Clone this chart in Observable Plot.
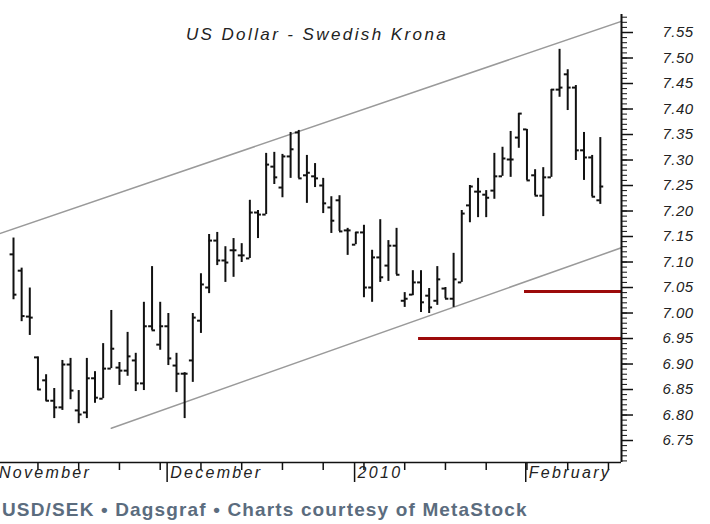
<!DOCTYPE html>
<html><head><meta charset="utf-8">
<script src="https://cdn.jsdelivr.net/npm/d3@7"></script>
<script src="https://cdn.jsdelivr.net/npm/@observablehq/plot@0.6"></script>
<style>
body{margin:0;background:#fff;}
#chart{width:710px;height:524px;position:relative;overflow:hidden;background:#fff;}
#footer{position:absolute;left:2px;top:499px;font:bold 19px "Liberation Sans",Arial,sans-serif;letter-spacing:1.15px;color:#5b6c7e;white-space:nowrap;}
</style></head><body><div id="chart"></div>
<script>
// ---- data ----
const title = "US Dollar - Swedish Krona";
const footer = "USD/SEK \u2022 Dagsgraf \u2022 Charts courtesy of MetaStock";
const dates = [
 "2009-11-04","2009-11-05","2009-11-06","2009-11-09","2009-11-10","2009-11-11","2009-11-12","2009-11-13",
 "2009-11-16","2009-11-17","2009-11-18","2009-11-19","2009-11-20","2009-11-23","2009-11-24","2009-11-25",
 "2009-11-26","2009-11-27","2009-11-30","2009-12-01","2009-12-02","2009-12-03","2009-12-04","2009-12-07",
 "2009-12-08","2009-12-09","2009-12-10","2009-12-11","2009-12-14","2009-12-15","2009-12-16","2009-12-17",
 "2009-12-18","2009-12-21","2009-12-22","2009-12-23","2009-12-24","2009-12-25","2009-12-28","2009-12-29",
 "2009-12-30","2009-12-31","2010-01-01","2010-01-04","2010-01-05","2010-01-06","2010-01-07","2010-01-08",
 "2010-01-11","2010-01-12","2010-01-13","2010-01-14","2010-01-15","2010-01-18","2010-01-19","2010-01-20",
 "2010-01-21","2010-01-22","2010-01-25","2010-01-26","2010-01-27","2010-01-28","2010-01-29","2010-02-01",
 "2010-02-02","2010-02-03","2010-02-04","2010-02-05","2010-02-08","2010-02-09","2010-02-10","2010-02-11",
 "2010-02-12"];
const open = [7.115,7.083,6.993,6.913,6.868,6.828,6.815,6.899,6.809,6.805,6.872,6.832,6.891,6.893,6.887,6.907,
 6.862,6.974,6.938,6.974,6.897,6.881,6.907,6.985,7.050,7.142,7.103,7.123,7.113,7.107,7.197,7.193,
 7.287,7.246,7.307,7.354,7.270,7.268,7.250,7.207,7.221,7.162,7.134,7.158,7.050,7.109,7.093,7.132,
 7.024,7.036,7.060,7.034,7.024,7.048,7.028,7.060,7.211,7.238,7.232,7.240,7.268,7.301,7.344,7.360,
 7.270,7.230,7.266,7.438,7.468,7.442,7.319,7.305,7.221];
const high = [7.147,7.088,7.049,6.914,6.879,6.852,6.907,6.911,6.848,6.911,6.885,6.940,7.005,6.903,6.962,6.921,
 7.021,7.091,7.021,6.999,6.921,6.883,6.999,7.077,7.154,7.158,7.130,7.146,7.136,7.221,7.201,7.313,
 7.315,7.311,7.354,7.358,7.309,7.293,7.264,7.228,7.230,7.166,7.158,7.172,7.123,7.183,7.142,7.166,
 7.040,7.083,7.083,7.048,7.091,7.050,7.117,7.201,7.250,7.264,7.240,7.313,7.325,7.356,7.391,7.360,
 7.281,7.285,7.438,7.517,7.477,7.446,7.354,7.309,7.344];
const low = [7.026,6.983,6.956,6.848,6.827,6.793,6.809,6.830,6.783,6.793,6.823,6.832,6.891,6.858,6.876,6.846,
 6.848,6.966,6.927,6.897,6.844,6.793,6.864,6.960,7.038,7.093,7.060,7.070,7.099,7.107,7.146,7.193,
 7.252,7.226,7.264,7.264,7.215,7.246,7.195,7.156,7.160,7.113,7.134,7.030,7.021,7.060,7.062,7.075,
 7.011,7.034,7.001,6.999,7.015,7.028,7.011,7.060,7.177,7.187,7.187,7.223,7.268,7.266,7.323,7.260,
 7.230,7.189,7.266,7.423,7.397,7.299,7.260,7.228,7.213];
const close = [7.036,6.994,6.991,6.850,6.828,6.815,6.899,6.848,6.801,6.872,6.834,6.891,6.930,6.887,6.915,6.862,
 6.974,6.966,6.974,6.911,6.881,6.881,6.991,7.056,7.142,7.103,7.099,7.123,7.113,7.197,7.193,7.291,
 7.266,7.307,7.321,7.264,7.275,7.264,7.215,7.181,7.160,7.162,7.158,7.050,7.109,7.070,7.132,7.075,
 7.028,7.060,7.021,7.011,7.066,7.028,7.066,7.195,7.248,7.238,7.226,7.268,7.303,7.301,7.391,7.260,
 7.230,7.266,7.438,7.442,7.442,7.319,7.305,7.228,7.248];
const yTickLabels = ["6.75","6.80","6.85","6.90","6.95","7.00","7.05","7.10","7.15","7.20","7.25","7.30","7.35","7.40","7.45","7.50","7.55"];
const monthLabels = ["November","December","2010","February"];
const monthStarts = ["2009-11-02","2009-12-01","2010-01-01","2010-02-01"];
const weekTicks = ["2009-11-09","2009-11-16","2009-11-23","2009-11-30","2009-12-07","2009-12-14","2009-12-21",
 "2009-12-28","2010-01-04","2010-01-11","2010-01-18","2010-01-25","2010-02-01","2010-02-08","2010-02-15"];
// trend channel: [date, value] end points
const upperChannel = [["2009-11-02", 7.154], ["2010-02-16", 7.572]];
const lowerChannel = [["2009-11-20", 6.774], ["2010-02-16", 7.128]];
// support levels (dark red) and where they start
const supportLevels = [7.042, 6.950];
const supportStarts = ["2010-02-01", "2010-01-13"];

// ---- helpers ----
const t0 = Date.parse(dates[0] + "T00:00:00Z");
function tradingPos(s, frac = 0) {
  // trading-day position of a date relative to the first bar (weekends skipped)
  const t = Date.parse(s + "T00:00:00Z");
  const dir = t >= t0 ? 1 : -1;
  let n = 0, cur = t0;
  while (cur !== t) {
    cur += dir * 86400000;
    const wd = new Date(cur).getUTCDay();
    if (wd !== 0 && wd !== 6) n += dir;
  }
  return n + frac;
}
const rows = dates.map((d, i) => ({i, date: d, open: open[i], high: high[i], low: low[i], close: close[i]}));
const X0 = -1.595, X1 = 74.6;
const Y0 = 6.7069, Y1 = 7.5853;
const yTicks = yTickLabels.map(Number);
const minorTicks = d3.range(671, 759).map(d => d / 100);
const monthPos = monthStarts.map(s => tradingPos(s) - 0.15);
const weekPos = weekTicks.map(s => tradingPos(s));
const chan = (arr) => arr.map(([d, v]) => ({x: tradingPos(d), v}));
const upper = chan(upperChannel), lower = chan(lowerChannel);
upper[1].x = X1; lower[1].x = X1;
upper[0].x = Math.min(upper[0].x, X0);
const supports = supportLevels.map((v, k) => ({v, x1: tradingPos(supportStarts[k], -0.3), x2: X1}));

const ink = "#111";
const plot = Plot.plot({
  width: 710, height: 496,
  marginLeft: 0, marginRight: 89, marginTop: 14, marginBottom: 34,
  x: {domain: [X0, X1], axis: null},
  y: {domain: [Y0, Y1], axis: null},
  style: {fontFamily: "'Liberation Sans', Arial, sans-serif", background: "#fff", color: ink},
  marks: [
    Plot.line(upper, {x: "x", y: "v", stroke: "#9a9a9a", strokeWidth: 1.5, clip: true}),
    Plot.line(lower, {x: "x", y: "v", stroke: "#9a9a9a", strokeWidth: 1.5, clip: true}),
    Plot.ruleY(supports, {y: "v", x1: "x1", x2: "x2", stroke: "#9c0a0a", strokeWidth: 3}),
    Plot.ruleX(rows, {x: "i", y1: "low", y2: "high", stroke: ink, strokeWidth: 2}),
    Plot.ruleY(rows, {y: "open", x1: d => d.i - 0.42, x2: "i", stroke: ink, strokeWidth: 2}),
    Plot.ruleY(rows, {y: "close", x1: "i", x2: d => d.i + 0.42, stroke: ink, strokeWidth: 2}),
    // frame: right value axis line and bottom time axis line
    Plot.ruleX([X1], {stroke: ink, strokeWidth: 2}),
    Plot.ruleY([Y0], {stroke: ink, strokeWidth: 1.5}),
    Plot.axisY({anchor: "right", ticks: minorTicks, tickSize: 5, tickFormat: () => "", label: null, stroke: ink, strokeWidth: 1}),
    Plot.axisY({anchor: "right", ticks: yTicks, tickSize: 11, tickPadding: 30, tickFormat: d3.format(".2f"),
      label: null, fontSize: 15, fontStyle: "italic", fill: "#222", stroke: ink, strokeWidth: 1.5}),
    Plot.axisX({anchor: "bottom", ticks: weekPos, tickSize: 8, tickFormat: () => "", label: null, stroke: ink, strokeWidth: 1.5}),
    Plot.axisX({anchor: "bottom", ticks: monthPos, tickSize: 20, tickFormat: () => "", label: null, stroke: ink, strokeWidth: 1.5}),
    Plot.text(monthLabels, {x: (d, k) => monthPos[k], text: d => d, frameAnchor: "bottom", textAnchor: "start",
      dx: 3, dy: 15, fontSize: 16, fontStyle: "italic", fill: "#222"}),
    Plot.text([title], {frameAnchor: "top", dx: 6, dy: 13, fontSize: 17, fontStyle: "italic", fill: "#222"})
  ]
});
d3.select(plot).selectAll("text").each(function() {
  const t = this.textContent;
  if (t === title) this.setAttribute("letter-spacing", "2.4");
  else if (monthLabels.includes(t)) this.setAttribute("letter-spacing", "2.3");
  else if (yTickLabels.includes(t)) this.setAttribute("letter-spacing", "0.5");
});
const chart = document.getElementById("chart");
chart.appendChild(plot);
const f = document.createElement("div");
f.id = "footer";
f.textContent = footer;
chart.appendChild(f);
</script>
</body></html>
